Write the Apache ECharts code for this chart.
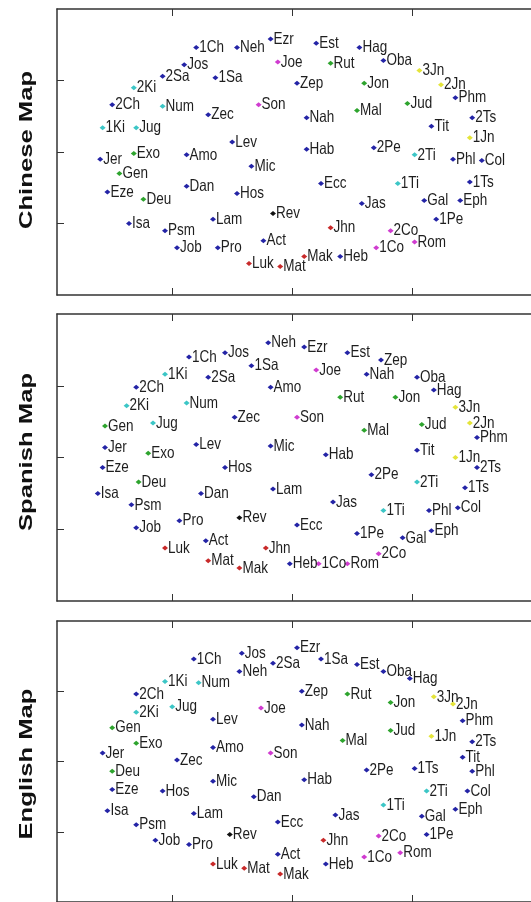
<!DOCTYPE html>
<html>
<head>
<meta charset="utf-8">
<script src="https://cdn.jsdelivr.net/npm/echarts@6/dist/echarts.min.js"></script>
<style>
html, body { margin: 0; padding: 0; background: #fff; }
#chart { width: 531px; height: 902px; }
</style>
</head>
<body>
<div id="chart"></div>
<script>
// book abbreviations, canonical order
const books = ['Gen','Exo','Lev','Num','Deu','Jos','Jug','Rut','1Sa','2Sa','1Ki','2Ki','1Ch','2Ch','Ezr','Neh','Est',
  'Job','Psm','Pro','Ecc','Son','Isa','Jer','Lam','Eze','Dan','Hos','Joe','Amo','Oba','Jon','Mic','Nah','Hab','Zep',
  'Hag','Zec','Mal','Mat','Mak','Luk','Jhn','Act','Rom','1Co','2Co','Gal','Eph','Phl','Col','1Ts','2Ts','1Ti','2Ti',
  'Tit','Phm','Heb','Jas','1Pe','2Pe','1Jn','2Jn','3Jn','Jud','Rev']
// marker group of each book
const bookGroup = ['g','g','b','c','g','b','c','g','b','b','c','c','b','b','b','b','b',
  'b','b','b','b','m','b','b','b','b','b','b','m','b','b','g','b','b','b','b',
  'b','b','g','r','r','r','r','b','m','m','m','b','b','b','b','b','b','c','c',
  'b','b','b','b','b','b','y','y','y','g','k']

const chineseX = [-0.72,-0.66,-0.25,-0.54,-0.62,-0.45,-0.65,0.16,-0.32,-0.54,-0.79,-0.66,-0.40,-0.75,-0.09,-0.23,0.10,
  -0.48,-0.53,-0.31,0.12,-0.14,-0.68,-0.80,-0.33,-0.77,-0.44,-0.23,-0.06,-0.44,0.38,0.30,-0.17,0.06,0.06,0.02,
  0.28,-0.35,0.27,-0.05,0.05,-0.18,0.16,-0.12,0.51,0.35,0.41,0.55,0.70,0.67,0.79,0.74,0.75,0.44,0.51,
  0.58,0.68,0.20,0.29,0.60,0.34,0.74,0.62,0.53,0.48,-0.08]
const chineseY = [-0.15,-0.01,0.07,0.32,-0.33,0.61,0.17,0.62,0.52,0.53,0.17,0.45,0.73,0.33,0.79,0.73,0.76,
  -0.67,-0.55,-0.67,-0.22,0.33,-0.50,-0.05,-0.47,-0.28,-0.24,-0.29,0.63,-0.02,0.64,0.48,-0.10,0.24,0.02,0.48,
  0.73,0.26,0.29,-0.80,-0.73,-0.78,-0.53,-0.62,-0.63,-0.67,-0.55,-0.34,-0.34,-0.05,-0.06,-0.21,0.24,-0.22,-0.02,
  0.18,0.38,-0.73,-0.36,-0.47,0.03,0.10,0.47,0.57,0.34,-0.43]

const spanishX = [-0.78,-0.60,-0.40,-0.44,-0.64,-0.28,-0.58,0.20,-0.17,-0.35,-0.53,-0.69,-0.43,-0.65,0.05,-0.10,0.23,
  -0.65,-0.67,-0.47,0.02,0.02,-0.81,-0.78,-0.08,-0.79,-0.38,-0.28,0.10,-0.09,0.52,0.43,-0.09,0.31,0.14,0.37,
  0.59,-0.24,0.30,-0.35,-0.22,-0.53,-0.11,-0.36,0.23,0.11,0.36,0.46,0.58,0.57,0.69,0.72,0.77,0.38,0.52,
  0.52,0.77,-0.01,0.17,0.27,0.33,0.68,0.74,0.68,0.54,-0.22]
const spanishY = [0.22,0.03,0.09,0.38,-0.17,0.73,0.24,0.42,0.64,0.56,0.58,0.36,0.70,0.49,0.77,0.80,0.73,
  -0.49,-0.33,-0.44,-0.47,0.28,-0.25,0.07,-0.22,-0.07,-0.25,-0.07,0.61,0.49,0.56,0.42,0.08,0.58,0.02,0.68,
  0.47,0.28,0.19,-0.72,-0.77,-0.63,-0.63,-0.58,-0.74,-0.74,-0.67,-0.56,-0.51,-0.37,-0.35,-0.21,-0.07,-0.37,-0.17,
  0.05,0.14,-0.74,-0.31,-0.53,-0.12,0.00,0.24,0.35,0.23,-0.42]

const englishX = [-0.75,-0.65,-0.33,-0.39,-0.75,-0.21,-0.50,0.23,0.12,-0.08,-0.53,-0.65,-0.41,-0.65,0.02,-0.22,0.27,
  -0.57,-0.65,-0.43,-0.06,-0.09,-0.77,-0.79,-0.41,-0.75,-0.16,-0.54,-0.13,-0.33,0.38,0.41,-0.33,0.04,0.05,0.04,
  0.49,-0.48,0.21,-0.20,-0.05,-0.33,0.13,-0.06,0.45,0.30,0.36,0.54,0.68,0.75,0.73,0.51,0.75,0.38,0.56,
  0.71,0.71,0.14,0.18,0.56,0.31,0.58,0.67,0.59,0.41,-0.26]
const englishY = [0.24,0.13,0.30,0.56,-0.07,0.77,0.39,0.48,0.73,0.70,0.57,0.35,0.73,0.48,0.81,0.64,0.69,
  -0.56,-0.45,-0.59,-0.43,0.06,-0.35,0.06,-0.37,-0.20,-0.25,-0.21,0.38,0.10,0.64,0.42,-0.14,0.26,-0.13,0.50,
  0.59,0.01,0.15,-0.76,-0.80,-0.73,-0.56,-0.66,-0.65,-0.68,-0.53,-0.39,-0.34,-0.07,-0.21,-0.05,0.14,-0.31,-0.21,
  0.03,0.29,-0.73,-0.38,-0.52,-0.06,0.18,0.41,0.46,0.22,-0.52]

const mapNames = ['Chinese Map', 'Spanish Map', 'English Map']
const xTicks = [-0.5, 0, 0.5]
const yTicks = [-0.5, 0, 0.5]

const mapX = [chineseX, spanishX, englishX]
const mapY = [chineseY, spanishY, englishY]

const groupColors = {b: '#2424a6', c: '#3cc6c6', g: '#2ea42e', m: '#d03cd0', y: '#e4e43a', r: '#c82a2a', k: '#111111'}

// panel boxes (pixels); the right side of the plots runs off the page
const panelTop = [9, 314, 621]
const panelHeight = [286, 287, 284]
const titleY = [150, 452, 764]

const frameLine = {show: true, onZero: false, lineStyle: {color: '#333', width: 1.5}}

const renderBook = (params, api) => {
    const k = params.dataIndex
    const pt = api.coord([api.value(0), api.value(1)])
    return {
        type: 'group',
        children: [
            {
                type: 'text',
                x: pt[0] + 3,
                y: pt[1],
                scaleY: 1.25,
                style: {
                    text: books[k],
                    fill: '#1e1e1e',
                    fontSize: 13.5,
                    fontFamily: '"Liberation Sans", Arial, sans-serif',
                    align: 'left',
                    verticalAlign: 'middle',
                },
            },
            {
                type: 'polygon',
                shape: {
                    points: [[pt[0] - 3, pt[1]], [pt[0], pt[1] - 2.5], [pt[0] + 3, pt[1]], [pt[0], pt[1] + 2.5]],
                },
                style: {fill: groupColors[bookGroup[k]]},
            },
        ],
    }
}

const grids = []
const xAxes = []
const yAxes = []
const series = []
mapNames.forEach((name, i) => {
    grids.push({left: 57, top: panelTop[i], right: 0, height: panelHeight[i], containLabel: false})
    ;['bottom', 'top'].forEach((pos) => {
        xAxes.push({
            type: 'value',
            gridIndex: i,
            position: pos,
            min: -0.98,
            max: 0.995,
            axisLine: frameLine,
            axisTick: {show: true, inside: true, length: 7, customValues: xTicks, lineStyle: {color: '#333'}},
            axisLabel: {show: false},
            splitLine: {show: false},
        })
    })
    yAxes.push({
        type: 'value',
        gridIndex: i,
        position: 'left',
        min: -1,
        max: 1,
        axisLine: frameLine,
        axisTick: {show: true, inside: true, length: 7, customValues: yTicks, lineStyle: {color: '#333'}},
        axisLabel: {show: false},
        splitLine: {show: false},
    })
    series.push({
        type: 'custom',
        name: name,
        xAxisIndex: i * 2,
        yAxisIndex: i,
        silent: true,
        clip: false,
        renderItem: renderBook,
        data: books.map((b, k) => [mapX[i][k], mapY[i][k]]),
    })
})

const myChart = echarts.init(document.getElementById('chart'))
myChart.setOption({
    backgroundColor: '#fff',
    animation: false,
    grid: grids,
    xAxis: xAxes,
    yAxis: yAxes,
    series: series,
    graphic: mapNames.map((name, i) => ({
        type: 'text',
        x: 27,
        y: titleY[i],
        rotation: Math.PI / 2,
        scaleX: 1.35,
        style: {
            text: name,
            fill: '#111',
            fontSize: 19,
            fontWeight: 'bold',
            fontFamily: '"Liberation Sans", Arial, sans-serif',
            align: 'center',
            verticalAlign: 'middle',
        },
    })),
})
</script>
</body>
</html>
